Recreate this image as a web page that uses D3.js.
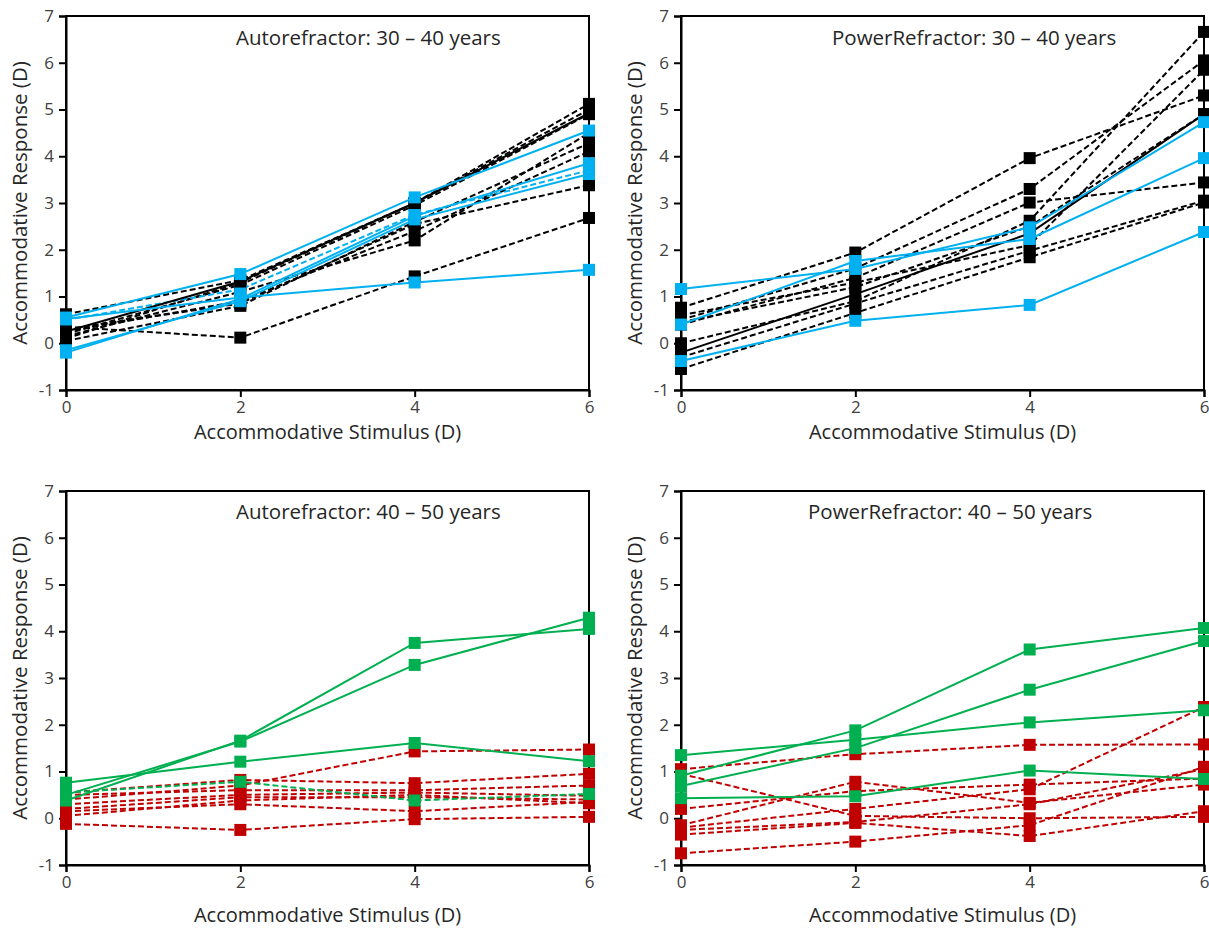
<!DOCTYPE html>
<html>
<head>
<meta charset="utf-8">
<script src="https://cdn.jsdelivr.net/npm/d3@7"></script>
<style>
  body { margin: 0; background: #fff; }
  svg { display: block; }
  .tick text { font-family: "Open Sans", sans-serif; font-size: 17px; fill: #404040; }
  .axis-title, .panel-title { font-family: "Open Sans", sans-serif; fill: #262626; }
</style>
</head>
<body>
<svg id="chart" width="1209" height="929"></svg>
<script>
var stimulus = [0, 2, 4, 6];
var yTicks = [-1, 0, 1, 2, 3, 4, 5, 6, 7];

// Autorefractor 30-40
var autoYoungBlackDashed = [
  [0.35, 0.12, 1.43, 2.68],
  [0.62, 1.35, 3.0, 5.12],
  [0.1, 1.3, 3.0, 5.0],
  [0.2, 1.25, 2.95, 4.9],
  [0.05, 0.8, 2.6, 4.28],
  [0.25, 0.9, 2.4, 4.1],
  [0.15, 1.1, 2.2, 4.5],
  [0.3, 0.85, 2.55, 3.38]
];
var autoYoungBlackSolid = [[0.25, 1.32, 3.0, 4.92]];
var autoYoungBlueSolid = [
  [0.55, 1.48, 3.12, 4.55],
  [-0.2, 0.95, 2.72, 3.85],
  [-0.15, 0.9, 2.65, 3.62],
  [0.52, 0.98, 1.3, 1.57]
];
var autoYoungBlueDashed = [[0.5, 1.15, 2.75, 3.7]];

// PowerRefractor 30-40
var powerYoungBlackDashed = [
  [0.76, 1.94, 3.96, 5.3],
  [0.5, 1.6, 3.3, 6.05],
  [0.4, 1.4, 3.01, 3.44],
  [0.0, 0.9, 2.62, 6.66],
  [-0.55, 0.65, 1.84, 3.01],
  [-0.3, 0.85, 1.98, 3.05],
  [0.6, 1.3, 2.1, 5.85],
  [0.45, 1.2, 2.5, 4.9]
];
var powerYoungBlackSolid = [[-0.2, 1.05, 2.35, 4.9]];
var powerYoungBlueSolid = [
  [1.16, 1.59, 2.48, 4.73],
  [0.4, 1.76, 2.23, 3.96],
  [-0.38, 0.48, 0.82, 2.38]
];

// Autorefractor 40-50
var autoOldRedDashed = [
  [0.4, 0.7, 1.43, 1.47],
  [0.55, 0.82, 0.75, 0.95],
  [0.5, 0.6, 0.6, 0.7],
  [0.3, 0.5, 0.55, 0.48],
  [0.2, 0.45, 0.45, 0.4],
  [0.15, 0.3, 0.15, 0.35],
  [0.05, 0.38, 0.5, 0.32],
  [-0.12, -0.25, -0.02, 0.03]
];
var autoOldGreenSolid = [
  [0.76, 1.21, 1.61, 1.22],
  [0.38, 1.66, 3.75, 4.05],
  [0.5, 1.64, 3.28, 4.29]
];
var autoOldGreenDashed = [[0.55, 0.78, 0.38, 0.52]];

// PowerRefractor 40-50
var powerOldRedDashed = [
  [1.05, 1.37, 1.57, 1.58],
  [0.95, 0.05, 0.0, 0.03],
  [0.2, 0.58, 0.72, 0.85],
  [-0.15, 0.78, 0.33, 0.72],
  [-0.2, 0.2, 0.62, 2.38],
  [-0.35, -0.1, -0.38, 0.15],
  [-0.75, -0.5, -0.15, 1.1],
  [-0.25, -0.08, 0.3, 1.05]
];
var powerOldGreenSolid = [
  [1.35, 1.68, 2.05, 2.31],
  [0.91, 1.88, 3.61, 4.07],
  [0.69, 1.5, 2.75, 3.79],
  [0.43, 0.47, 1.02, 0.84]
];

var BLACK = "#000000", BLUE = "#00b0f0", GREEN = "#00b050", RED = "#c00000";

var panels = [
  { title: "Autorefractor: 30 \u2013 40 years", left: 66, top: 16, titleX: 236, titleY: 45, xTitleY: 439,
    groups: [
      { data: autoYoungBlackDashed, color: BLACK, dash: "6,3" },
      { data: autoYoungBlueDashed, color: BLUE, dash: "6,3" },
      { data: autoYoungBlackSolid, color: BLACK, dash: null },
      { data: autoYoungBlueSolid, color: BLUE, dash: null }
    ] },
  { title: "PowerRefractor: 30 \u2013 40 years", left: 681, top: 16, titleX: 832, titleY: 45, xTitleY: 439,
    groups: [
      { data: powerYoungBlackDashed, color: BLACK, dash: "6,3" },
      { data: powerYoungBlackSolid, color: BLACK, dash: null },
      { data: powerYoungBlueSolid, color: BLUE, dash: null }
    ] },
  { title: "Autorefractor: 40 \u2013 50 years", left: 66, top: 491, titleX: 236, titleY: 519, xTitleY: 922,
    groups: [
      { data: autoOldRedDashed, color: RED, dash: "6,3" },
      { data: autoOldGreenDashed, color: GREEN, dash: "6,3" },
      { data: autoOldGreenSolid, color: GREEN, dash: null }
    ] },
  { title: "PowerRefractor: 40 \u2013 50 years", left: 681, top: 491, titleX: 808, titleY: 519, xTitleY: 922,
    groups: [
      { data: powerOldRedDashed, color: RED, dash: "6,3" },
      { data: powerOldGreenSolid, color: GREEN, dash: null }
    ] }
];

var W = 523, H = 374, markerSize = 12;
var svg = d3.select("#chart");

panels.forEach(function (p) {
  var g = svg.append("g").attr("transform", "translate(" + p.left + "," + p.top + ")");
  var x = d3.scaleLinear().domain([0, 6]).range([0, W]);
  var y = d3.scaleLinear().domain([-1, 7]).range([H, 0]);

  // frame
  g.append("rect").attr("width", W).attr("height", H)
    .attr("fill", "none").attr("stroke", "#000").attr("stroke-width", 2);

  var xAxis = g.append("g").attr("transform", "translate(0," + H + ")")
    .call(d3.axisBottom(x).tickValues(stimulus).tickFormat(String).tickSize(7).tickPadding(2));
  var yAxis = g.append("g")
    .call(d3.axisLeft(y).tickValues(yTicks).tickFormat(String).tickSize(7).tickPadding(5));
  [xAxis, yAxis].forEach(function (a) {
    a.select(".domain").attr("stroke", "#000").attr("stroke-width", 2);
    a.selectAll(".tick line").attr("stroke", "#000").attr("stroke-width", 2);
  });
  xAxis.selectAll(".tick text").attr("dy", "0.8em");

  var line = d3.line().x(function (d, i) { return x(stimulus[i]); }).y(function (d) { return y(d); });

  p.groups.forEach(function (grp) {
    grp.data.forEach(function (s) {
      g.append("path").datum(s).attr("d", line)
        .attr("fill", "none").attr("stroke", grp.color).attr("stroke-width", 2)
        .attr("stroke-dasharray", grp.dash);
      g.selectAll(null).data(s).enter().append("rect")
        .attr("x", function (d, i) { return x(stimulus[i]) - markerSize / 2; })
        .attr("y", function (d) { return y(d) - markerSize / 2; })
        .attr("width", markerSize).attr("height", markerSize)
        .attr("fill", grp.color);
    });
  });

  svg.append("text").attr("class", "panel-title")
    .attr("x", p.titleX).attr("y", p.titleY)
    .attr("font-size", 20.5).text(p.title);

  svg.append("text").attr("class", "axis-title")
    .attr("x", p.left + W / 2).attr("y", p.xTitleY)
    .attr("text-anchor", "middle").attr("font-size", 20)
    .text("Accommodative Stimulus (D)");

  svg.append("text").attr("class", "axis-title")
    .attr("transform", "translate(" + (p.left - 39) + "," + (p.top + H / 2) + ") rotate(-90)")
    .attr("text-anchor", "middle").attr("font-size", 20.5)
    .text("Accommodative Response (D)");
});
</script>
</body>
</html>
